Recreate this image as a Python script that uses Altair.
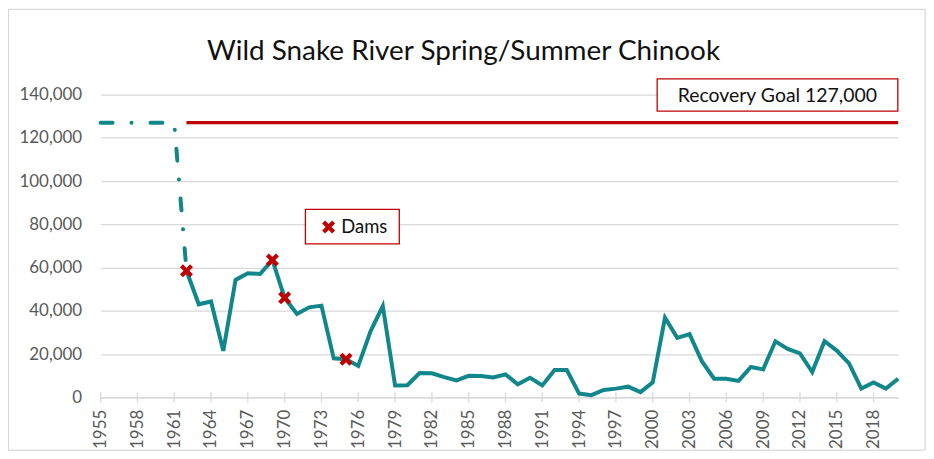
import altair as alt
import pandas as pd

# ---------------- data ----------------
years = list(range(1962, 2021))
returns = [58500, 43000, 44300, 21500, 54300, 57400, 57000, 63500, 46000, 38500,
           41600, 42400, 18000, 17600, 14500, 30500, 42200, 5500, 5600, 11200,
           11100, 9300, 7800, 9900, 9800, 9200, 10600, 6000, 9000, 5500,
           12600, 12600, 1700, 1000, 3400, 4000, 4900, 2400, 6900, 36800,
           27500, 29200, 16700, 8600, 8600, 7600, 14000, 12900, 25900, 22400,
           20300, 11700, 25900, 21600, 15700, 4000, 6800, 4000, 8600]

pre_years = [1955, 1956, 1957, 1958, 1959, 1960, 1961, 1962]
pre_values = [127000, 127000, 127000, 127000, 127000, 127000, 127000, 58500]

goal_years = [1962, 2020]
goal_values = [127000, 127000]

dam_years = [1962, 1969, 1970, 1975]
dam_values = [58500, 63500, 46000, 17600]

x_ticks = [1955, 1958, 1961, 1964, 1967, 1970, 1973, 1976, 1979, 1982, 1985,
           1988, 1991, 1994, 1997, 2000, 2003, 2006, 2009, 2012, 2015, 2018]
y_ticks = [0, 20000, 40000, 60000, 80000, 100000, 120000, 140000]

title_text = "Wild Snake River Spring/Summer Chinook"
goal_label = "Recovery Goal 127,000"
dam_label = "Dams"

# ---------------- styling ----------------
TEAL = "#11878b"
RED = "#C00000"
GRID = "#d9d9d9"
FONT = "Lato"
W, H = 801, 304
X_SHAPE = ("M-1,-0.55L-0.55,-1L0,-0.45L0.55,-1L1,-0.55L0.45,0L1,0.55L0.55,1"
           "L0,0.45L-0.55,1L-1,0.55L-0.45,0Z")

main_df = pd.DataFrame({"year": years, "value": returns})
pre_df = pd.DataFrame({"year": pre_years, "value": pre_values})
goal_df = pd.DataFrame({"year": goal_years, "value": goal_values})
dam_df = pd.DataFrame({"year": dam_years, "value": dam_values})
tick_df = pd.DataFrame({"year": x_ticks})
one = pd.DataFrame({"k": [0]})

xs = alt.Scale(domain=[1955, 2020], nice=False, zero=False)
ys = alt.Scale(domain=[0, 140000], nice=False)

X = alt.X("year:Q", scale=xs, title=None,
          axis=alt.Axis(values=x_ticks, format="d", labelAngle=-90, grid=False,
                        ticks=False, domainColor=GRID, domainWidth=1.3,
                        labelPadding=12, labelFlush=False, labelOverlap=False))
Y = alt.Y("value:Q", scale=ys, title=None,
          axis=alt.Axis(values=y_ticks, format=",d", grid=True, gridColor=GRID,
                        gridWidth=1.3, ticks=False, domain=False, labelPadding=19))

border = alt.Chart(one).mark_rect(fillOpacity=0, stroke=GRID, strokeWidth=1.2).encode(
    x=alt.value(-92.5), x2=alt.value(828), y=alt.value(-85.5), y2=alt.value(357))

tick_rules = alt.Chart(tick_df).mark_rule(color=GRID, strokeWidth=1.3).encode(
    x=X, y=alt.value(H - 5), y2=alt.value(H + 5))

goal_line = alt.Chart(goal_df).mark_line(color=RED, strokeWidth=3.2).encode(x=X, y=Y)

pre_line = alt.Chart(pre_df).mark_line(
    color=TEAL, strokeWidth=4, strokeDash=[12, 19, 0.1, 19], strokeCap="round"
).encode(x=X, y=Y)

main_line = alt.Chart(main_df).mark_line(color=TEAL, strokeWidth=4).encode(x=X, y=Y)

dams = alt.Chart(dam_df).mark_point(
    shape=X_SHAPE, size=170, filled=True, color=RED, opacity=1
).encode(x=X, y=Y)

title = alt.Chart(one).mark_text(
    text=title_text, font=FONT, fontSize=28, color="#111111",
    align="center", baseline="alphabetic"
).encode(x=alt.value(364.5), y=alt.value(-34.7))

goal_box = alt.Chart(one).mark_rect(fill="white", stroke=RED, strokeWidth=1.3).encode(
    x=alt.value(559), x2=alt.value(800.7), y=alt.value(-15.7), y2=alt.value(16.7))
goal_text = alt.Chart(one).mark_text(
    text=goal_label, font=FONT, fontSize=19.5, color="#111111",
    align="center", baseline="alphabetic"
).encode(x=alt.value(679.7), y=alt.value(7))

dam_box = alt.Chart(one).mark_rect(fill="white", stroke=RED, strokeWidth=1.3).encode(
    x=alt.value(205.7), x2=alt.value(300), y=alt.value(115.3), y2=alt.value(150))
dam_sym = alt.Chart(one).mark_point(
    shape=X_SHAPE, size=170, filled=True, color=RED, opacity=1
).encode(x=alt.value(229), y=alt.value(133))
dam_text = alt.Chart(one).mark_text(
    text=dam_label, font=FONT, fontSize=18.5, color="#111111",
    align="left", baseline="alphabetic"
).encode(x=alt.value(241.7), y=alt.value(139.5))

chart = alt.layer(
    border, tick_rules, goal_line, pre_line, main_line, dams,
    title, goal_box, goal_text, dam_box, dam_sym, dam_text
).properties(
    width=W, height=H,
    autosize=alt.AutoSizeParams(type="none"),
    padding={"left": 93, "top": 86, "right": 28, "bottom": 56},
    background="white"
).configure_view(stroke="transparent").configure_axis(
    labelFont=FONT, labelFontSize=17, labelColor="#595959"
)

chart.save("out.html", embed_options={"renderer": "svg", "actions": False})
